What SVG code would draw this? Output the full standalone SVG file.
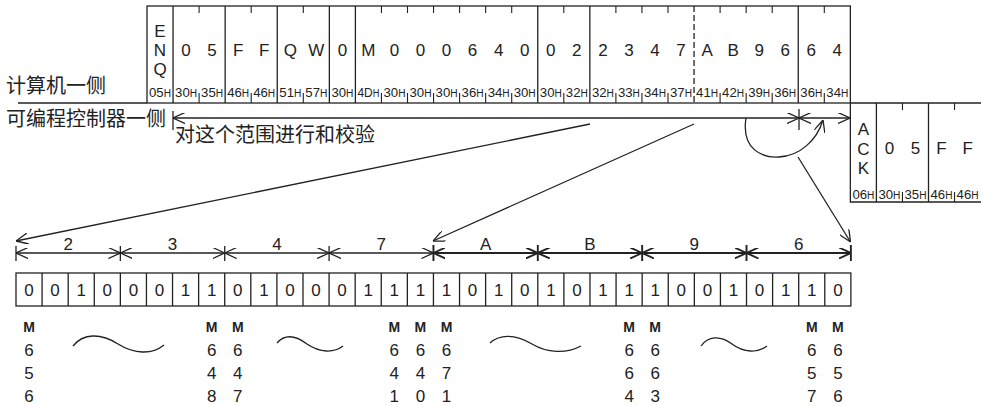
<svg xmlns="http://www.w3.org/2000/svg" width="981" height="406" viewBox="0 0 981 406">
<style>
.ln{stroke:#222;stroke-width:1.3;fill:none}
.thin{stroke:#222;stroke-width:1.1;fill:none}
.bold{stroke:#222;stroke-width:1.9;fill:none}
.t{font-family:"Liberation Sans",Arial,sans-serif;font-size:17px;fill:#222;text-anchor:middle}
.hx{font-family:"Liberation Sans",Arial,sans-serif;font-size:13px;fill:#222;text-anchor:middle}
.hx tspan{font-size:10px}
.m{font-family:"Liberation Sans",Arial,sans-serif;font-size:14px;font-weight:bold;fill:#222;text-anchor:middle}
.cn{font-family:"Noto Sans CJK SC","Noto Sans CJK JP",sans-serif;font-size:20px;fill:#222}
</style>
<defs>
<marker id="ah" viewBox="0 0 12 11" refX="12" refY="5.5" markerWidth="12" markerHeight="11" orient="auto-start-reverse" markerUnits="userSpaceOnUse">
<path d="M0,0 L12,5.5 L0,11" fill="none" stroke="#222" stroke-width="1.3"/>
</marker>
<marker id="ahb" viewBox="0 0 12 11" refX="12" refY="5.5" markerWidth="12" markerHeight="11" orient="auto-start-reverse" markerUnits="userSpaceOnUse">
<path d="M0,0 L12,5.5 L0,11" fill="none" stroke="#222" stroke-width="1.9"/>
</marker>
</defs>

<g id="labels">
<text class="cn" x="6" y="93">计算机一侧</text>
<text class="cn" x="6" y="126">可编程控制器一侧</text>
<text class="cn" x="175" y="142">对这个范围进行和校验</text>
</g>

<g id="computer-frame">
<rect class="ln" x="147" y="6" width="703.35" height="97"/>
<path class="ln" d="M173.05,6V103M225.15,6V103M277.25,6V103M329.35,6V103M355.4,6V103M537.75,6V103M589.85,6V103M798.25,6V103"/>
<path class="ln" d="M694.05,6V103" stroke-dasharray="6,3"/>
<path class="thin" d="M199.1,6v7M251.2,6v7M303.3,6v7M381.45,6v7M407.5,6v7M433.55,6v7M459.6,6v7M485.65,6v7M511.7,6v7M563.8,6v7M615.9,6v7M641.95,6v7M668,6v7M720.1,6v7M746.15,6v7M772.2,6v7M824.3,6v7"/>
<path class="thin" d="M199.1,93v10M251.2,93v10M303.3,93v10M381.45,93v10M407.5,93v10M433.55,93v10M459.6,93v10M485.65,93v10M511.7,93v10M563.8,93v10M615.9,93v10M641.95,93v10M668,93v10M720.1,93v10M746.15,93v10M772.2,93v10M824.3,93v10"/>
<text class="t" x="160" y="37">E</text>
<text class="t" x="160" y="56">N</text>
<text class="t" x="160" y="75">Q</text>
<text class="t" x="186.1" y="56">0</text>
<text class="t" x="212.1" y="56">5</text>
<text class="t" x="238.2" y="56">F</text>
<text class="t" x="264.2" y="56">F</text>
<text class="t" x="290.3" y="56">Q</text>
<text class="t" x="316.3" y="56">W</text>
<text class="t" x="342.4" y="56">0</text>
<text class="t" x="368.4" y="56">M</text>
<text class="t" x="394.5" y="56">0</text>
<text class="t" x="420.5" y="56">0</text>
<text class="t" x="446.6" y="56">0</text>
<text class="t" x="472.6" y="56">6</text>
<text class="t" x="498.7" y="56">4</text>
<text class="t" x="524.7" y="56">0</text>
<text class="t" x="550.8" y="56">0</text>
<text class="t" x="576.8" y="56">2</text>
<text class="t" x="602.9" y="56">2</text>
<text class="t" x="628.9" y="56">3</text>
<text class="t" x="655" y="56">4</text>
<text class="t" x="681" y="56">7</text>
<text class="t" x="707.1" y="56">A</text>
<text class="t" x="733.1" y="56">B</text>
<text class="t" x="759.2" y="56">9</text>
<text class="t" x="785.2" y="56">6</text>
<text class="t" x="811.3" y="56">6</text>
<text class="t" x="837.3" y="56">4</text>
<text class="hx" x="160" y="97" textLength="22" lengthAdjust="spacingAndGlyphs">05<tspan>H</tspan></text>
<text class="hx" x="186.1" y="97" textLength="22" lengthAdjust="spacingAndGlyphs">30<tspan>H</tspan></text>
<text class="hx" x="212.1" y="97" textLength="22" lengthAdjust="spacingAndGlyphs">35<tspan>H</tspan></text>
<text class="hx" x="238.2" y="97" textLength="22" lengthAdjust="spacingAndGlyphs">46<tspan>H</tspan></text>
<text class="hx" x="264.2" y="97" textLength="22" lengthAdjust="spacingAndGlyphs">46<tspan>H</tspan></text>
<text class="hx" x="290.3" y="97" textLength="22" lengthAdjust="spacingAndGlyphs">51<tspan>H</tspan></text>
<text class="hx" x="316.3" y="97" textLength="22" lengthAdjust="spacingAndGlyphs">57<tspan>H</tspan></text>
<text class="hx" x="342.4" y="97" textLength="22" lengthAdjust="spacingAndGlyphs">30<tspan>H</tspan></text>
<text class="hx" x="368.4" y="97" textLength="22" lengthAdjust="spacingAndGlyphs">4D<tspan>H</tspan></text>
<text class="hx" x="394.5" y="97" textLength="22" lengthAdjust="spacingAndGlyphs">30<tspan>H</tspan></text>
<text class="hx" x="420.5" y="97" textLength="22" lengthAdjust="spacingAndGlyphs">30<tspan>H</tspan></text>
<text class="hx" x="446.6" y="97" textLength="22" lengthAdjust="spacingAndGlyphs">30<tspan>H</tspan></text>
<text class="hx" x="472.6" y="97" textLength="22" lengthAdjust="spacingAndGlyphs">36<tspan>H</tspan></text>
<text class="hx" x="498.7" y="97" textLength="22" lengthAdjust="spacingAndGlyphs">34<tspan>H</tspan></text>
<text class="hx" x="524.7" y="97" textLength="22" lengthAdjust="spacingAndGlyphs">30<tspan>H</tspan></text>
<text class="hx" x="550.8" y="97" textLength="22" lengthAdjust="spacingAndGlyphs">30<tspan>H</tspan></text>
<text class="hx" x="576.8" y="97" textLength="22" lengthAdjust="spacingAndGlyphs">32<tspan>H</tspan></text>
<text class="hx" x="602.9" y="97" textLength="22" lengthAdjust="spacingAndGlyphs">32<tspan>H</tspan></text>
<text class="hx" x="628.9" y="97" textLength="22" lengthAdjust="spacingAndGlyphs">33<tspan>H</tspan></text>
<text class="hx" x="655" y="97" textLength="22" lengthAdjust="spacingAndGlyphs">34<tspan>H</tspan></text>
<text class="hx" x="681" y="97" textLength="22" lengthAdjust="spacingAndGlyphs">37<tspan>H</tspan></text>
<text class="hx" x="707.1" y="97" textLength="22" lengthAdjust="spacingAndGlyphs">41<tspan>H</tspan></text>
<text class="hx" x="733.1" y="97" textLength="22" lengthAdjust="spacingAndGlyphs">42<tspan>H</tspan></text>
<text class="hx" x="759.2" y="97" textLength="22" lengthAdjust="spacingAndGlyphs">39<tspan>H</tspan></text>
<text class="hx" x="785.2" y="97" textLength="22" lengthAdjust="spacingAndGlyphs">36<tspan>H</tspan></text>
<text class="hx" x="811.3" y="97" textLength="22" lengthAdjust="spacingAndGlyphs">36<tspan>H</tspan></text>
<text class="hx" x="837.3" y="97" textLength="22" lengthAdjust="spacingAndGlyphs">34<tspan>H</tspan></text>
</g>

<g id="divider">
<path class="ln" d="M18,103H147"/>
</g>

<g id="plc-frame">
<path class="ln" d="M850.35,103H981M850.35,103V202H981M876.4,103V202M928.5,103V202"/>
<path class="thin" d="M902.45,103v7M954.55,103v7M902.45,192v10M954.55,192v10"/>
<text class="t" x="863.4" y="135">A</text>
<text class="t" x="863.4" y="155">C</text>
<text class="t" x="863.4" y="174">K</text>
<text class="t" x="889.4" y="154">0</text>
<text class="t" x="915.5" y="154">5</text>
<text class="t" x="941.5" y="154">F</text>
<text class="t" x="967.6" y="154">F</text>
<text class="hx" x="863.4" y="199" textLength="22" lengthAdjust="spacingAndGlyphs">06<tspan>H</tspan></text>
<text class="hx" x="889.4" y="199" textLength="22" lengthAdjust="spacingAndGlyphs">30<tspan>H</tspan></text>
<text class="hx" x="915.5" y="199" textLength="22" lengthAdjust="spacingAndGlyphs">35<tspan>H</tspan></text>
<text class="hx" x="941.5" y="199" textLength="22" lengthAdjust="spacingAndGlyphs">46<tspan>H</tspan></text>
<text class="hx" x="967.6" y="199" textLength="22" lengthAdjust="spacingAndGlyphs">46<tspan>H</tspan></text>
</g>

<g id="bits">
<rect class="ln" x="16" y="273" width="834.88" height="33"/>
<path class="ln" d="M42.09,273v33M68.18,273v33M94.27,273v33M120.36,273v33M146.45,273v33M172.54,273v33M198.63,273v33M224.72,273v33M250.81,273v33M276.9,273v33M302.99,273v33M329.08,273v33M355.17,273v33M381.26,273v33M407.35,273v33M433.44,273v33M459.53,273v33M485.62,273v33M511.71,273v33M537.8,273v33M563.89,273v33M589.98,273v33M616.07,273v33M642.16,273v33M668.25,273v33M694.34,273v33M720.43,273v33M746.52,273v33M772.61,273v33M798.7,273v33M824.79,273v33"/>
<text class="t" x="29" y="296">0</text>
<text class="t" x="55.1" y="296">0</text>
<text class="t" x="81.2" y="296">1</text>
<text class="t" x="107.3" y="296">0</text>
<text class="t" x="133.4" y="296">0</text>
<text class="t" x="159.5" y="296">0</text>
<text class="t" x="185.6" y="296">1</text>
<text class="t" x="211.7" y="296">1</text>
<text class="t" x="237.8" y="296">0</text>
<text class="t" x="263.9" y="296">1</text>
<text class="t" x="290" y="296">0</text>
<text class="t" x="316" y="296">0</text>
<text class="t" x="342.1" y="296">0</text>
<text class="t" x="368.2" y="296">1</text>
<text class="t" x="394.3" y="296">1</text>
<text class="t" x="420.4" y="296">1</text>
<text class="t" x="446.5" y="296">1</text>
<text class="t" x="472.6" y="296">0</text>
<text class="t" x="498.7" y="296">1</text>
<text class="t" x="524.8" y="296">0</text>
<text class="t" x="550.9" y="296">1</text>
<text class="t" x="577" y="296">0</text>
<text class="t" x="603.1" y="296">1</text>
<text class="t" x="629.2" y="296">1</text>
<text class="t" x="655.2" y="296">1</text>
<text class="t" x="681.3" y="296">0</text>
<text class="t" x="707.4" y="296">0</text>
<text class="t" x="733.5" y="296">1</text>
<text class="t" x="759.6" y="296">0</text>
<text class="t" x="785.7" y="296">1</text>
<text class="t" x="811.8" y="296">1</text>
<text class="t" x="837.9" y="296">0</text>
</g>

<g id="nibble-labels">
<text class="t" x="68.2" y="250">2</text>
<text class="t" x="172.5" y="250">3</text>
<text class="t" x="276.9" y="250">4</text>
<text class="t" x="381.3" y="250">7</text>
<text class="t" x="485.6" y="250">A</text>
<text class="t" x="590" y="250">B</text>
<text class="t" x="694.3" y="250">9</text>
<text class="t" x="798.7" y="250">6</text>
</g>

<g id="device-labels">
<g class="m"><text x="29" y="332">M</text><text x="211.7" y="332">M</text><text x="237.8" y="332">M</text><text x="394.3" y="332">M</text><text x="420.4" y="332">M</text><text x="446.5" y="332">M</text><text x="629.2" y="332">M</text><text x="655.2" y="332">M</text><text x="811.8" y="332">M</text><text x="837.9" y="332">M</text></g>
<text class="t" x="29" y="356">6</text><text class="t" x="29" y="379">5</text><text class="t" x="29" y="402">6</text>
<text class="t" x="211.7" y="356">6</text><text class="t" x="211.7" y="379">4</text><text class="t" x="211.7" y="402">8</text>
<text class="t" x="237.8" y="356">6</text><text class="t" x="237.8" y="379">4</text><text class="t" x="237.8" y="402">7</text>
<text class="t" x="394.3" y="356">6</text><text class="t" x="394.3" y="379">4</text><text class="t" x="394.3" y="402">1</text>
<text class="t" x="420.4" y="356">6</text><text class="t" x="420.4" y="379">4</text><text class="t" x="420.4" y="402">0</text>
<text class="t" x="446.5" y="356">6</text><text class="t" x="446.5" y="379">7</text><text class="t" x="446.5" y="402">1</text>
<text class="t" x="629.2" y="356">6</text><text class="t" x="629.2" y="379">6</text><text class="t" x="629.2" y="402">4</text>
<text class="t" x="655.2" y="356">6</text><text class="t" x="655.2" y="379">6</text><text class="t" x="655.2" y="402">3</text>
<text class="t" x="811.8" y="356">6</text><text class="t" x="811.8" y="379">5</text><text class="t" x="811.8" y="402">7</text>
<text class="t" x="837.9" y="356">6</text><text class="t" x="837.9" y="379">5</text><text class="t" x="837.9" y="402">6</text>
<path class="ln" d="M73,346C83,333 101,333 118,344C134,354 152,355 164,345"/>
<path class="ln" d="M277,343C285,334 295,335 307,344C320,353 334,353 343,346"/>
<path class="ln" d="M490,343C500,334 515,334 532,344C547,353 566,354 581,346"/>
<path class="ln" d="M701,346C708,336 720,335 732,344C744,353 758,353 767,346"/>
</g>

<g id="connectors">
<path class="ln" d="M173,111V130M799,109V130"/>
<path class="ln" d="M173,118H799" marker-start="url(#ah)" marker-end="url(#ah)"/>
<path class="ln" d="M799,118H850" marker-start="url(#ah)" marker-end="url(#ah)"/>
<path class="ln" d="M590,124L16,241" marker-end="url(#ah)"/>
<path class="ln" d="M694,124L433,241" marker-end="url(#ah)"/>
<path class="ln" d="M746,118C741,150 763,158 779,157C800,156 817,140 823,120" marker-end="url(#ah)"/>
<path class="ln" d="M798,157L850.5,242" marker-end="url(#ah)"/>
<path class="ln" d="M16,246V261M120.36,246V261M224.72,246V261M329.08,246V261"/>
<path class="bold" d="M433.44,245V261M537.8,245V261M642.16,245V261M746.52,245V261M850.88,245V261"/>
<path class="ln" d="M16,253H120.36" marker-start="url(#ah)" marker-end="url(#ah)"/>
<path class="ln" d="M120.36,253H224.72" marker-start="url(#ah)" marker-end="url(#ah)"/>
<path class="ln" d="M224.72,253H329.08" marker-start="url(#ah)" marker-end="url(#ah)"/>
<path class="ln" d="M329.08,253H433.44" marker-start="url(#ah)" marker-end="url(#ah)"/>
<path class="bold" d="M433.44,253H537.8" marker-start="url(#ahb)" marker-end="url(#ahb)"/>
<path class="bold" d="M537.8,253H642.16" marker-start="url(#ahb)" marker-end="url(#ahb)"/>
<path class="bold" d="M642.16,253H746.52" marker-start="url(#ahb)" marker-end="url(#ahb)"/>
<path class="bold" d="M746.52,253H850.88" marker-start="url(#ahb)" marker-end="url(#ahb)"/>
</g>
</svg>
